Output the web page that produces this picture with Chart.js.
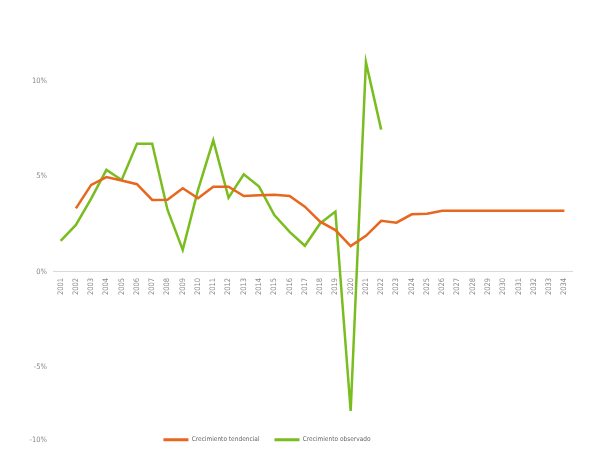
<!DOCTYPE html>
<html>
<head>
<meta charset="utf-8">
<script src="https://cdn.jsdelivr.net/npm/chart.js@4/dist/chart.umd.min.js"></script>
<style>
    html, body { margin: 0; padding: 0; background: #fff; }
    #wrap { width: 600px; height: 450px; position: relative; }
</style>
</head>
<body>
<div id="wrap"><canvas id="growth-chart"></canvas></div>
<script>
// Years on the x axis
const years = [
    '2001', '2002', '2003', '2004', '2005', '2006', '2007', '2008', '2009', '2010',
    '2011', '2012', '2013', '2014', '2015', '2016', '2017', '2018', '2019', '2020',
    '2021', '2022', '2023', '2024', '2025', '2026', '2027', '2028', '2029', '2030',
    '2031', '2032', '2033', '2034'
];

// Crecimiento tendencial (%), starts 2002
const trendGrowth = [
    null, 3.33, 4.56, 4.97, 4.79, 4.6, 3.77, 3.78, 4.39, 3.86,
    4.47, 4.47, 3.98, 4.02, 4.05, 3.98, 3.42, 2.63, 2.19, 1.35,
    1.89, 2.68, 2.58, 3.02, 3.05, 3.21, 3.21, 3.21, 3.21, 3.21,
    3.21, 3.21, 3.21, 3.21
];

// Crecimiento observado (%), ends 2022
const observedGrowth = [
    1.63, 2.46, 3.84, 5.35, 4.82, 6.72, 6.72, 3.26, 1.15, 4.3,
    6.9, 3.89, 5.12, 4.47, 2.98, 2.1, 1.37, 2.54, 3.16, -7.3,
    11.0, 7.46
];

// y axis ticks (the lowest label sits level with the legend, as in the source)
const yTickValues = [-8.8, -5, 0, 5, 10];
const yTickLabels = ['-10%', '-5%', '0%', '5%', '10%'];

const ORANGE = '#e8661d';
const GREEN = '#79bd1f';
const FONT = "'Liberation Sans Narrow', 'DejaVu Sans Condensed', sans-serif";

// legend in the source is centred a bit left of the canvas middle
const legendShift = {
    id: 'legendShift',
    afterLayout(chart) {
        if (chart.legend) chart.legend.left -= 38;
    }
};

const ctx = document.getElementById('growth-chart').getContext('2d');

new Chart(ctx, {
    type: 'line',
    data: {
        labels: years,
        datasets: [
            {
                label: 'Crecimiento tendencial',
                data: trendGrowth,
                borderColor: ORANGE,
                backgroundColor: ORANGE,
                borderWidth: 2.5,
                pointRadius: 0,
                tension: 0
            },
            {
                label: 'Crecimiento observado',
                data: observedGrowth,
                borderColor: GREEN,
                backgroundColor: GREEN,
                borderWidth: 2.5,
                pointRadius: 0,
                tension: 0
            }
        ]
    },
    options: {
        responsive: true,
        maintainAspectRatio: false,
        animation: false,
        layout: {
            padding: { top: 45, right: 28, bottom: -3, left: 0 }
        },
        plugins: {
            tooltip: { enabled: false },
            legend: {
                display: true,
                position: 'bottom',
                labels: {
                    boxWidth: 25,
                    boxHeight: 3,
                    padding: 15,
                    color: '#666',
                    font: { family: FONT, size: 6.5 },
                    generateLabels(chart) {
                        const items = Chart.defaults.plugins.legend.labels.generateLabels(chart);
                        items.forEach(item => { item.lineWidth = 0; });
                        return items;
                    }
                }
            }
        },
        scales: {
            x: {
                position: { y: 0 },
                offset: true,
                grid: { display: false, drawTicks: false },
                border: { display: true, color: '#d9d9d9', width: 1 },
                ticks: {
                    autoSkip: false,
                    minRotation: 90,
                    maxRotation: 90,
                    padding: 6,
                    color: '#888',
                    font: { family: FONT, size: 7.5 }
                }
            },
            y: {
                min: -7.85,
                max: 11.9,
                grid: { display: false, drawTicks: false },
                border: { display: false },
                afterBuildTicks(scale) {
                    scale.ticks = yTickValues.map(v => ({ value: v }));
                },
                afterFit(scale) {
                    scale.width = 53;
                },
                ticks: {
                    padding: 6,
                    color: '#888',
                    font: { family: FONT, size: 7.5 },
                    callback(value, index) {
                        return yTickLabels[index];
                    }
                }
            }
        }
    },
    plugins: [legendShift]
});
</script>
</body>
</html>
